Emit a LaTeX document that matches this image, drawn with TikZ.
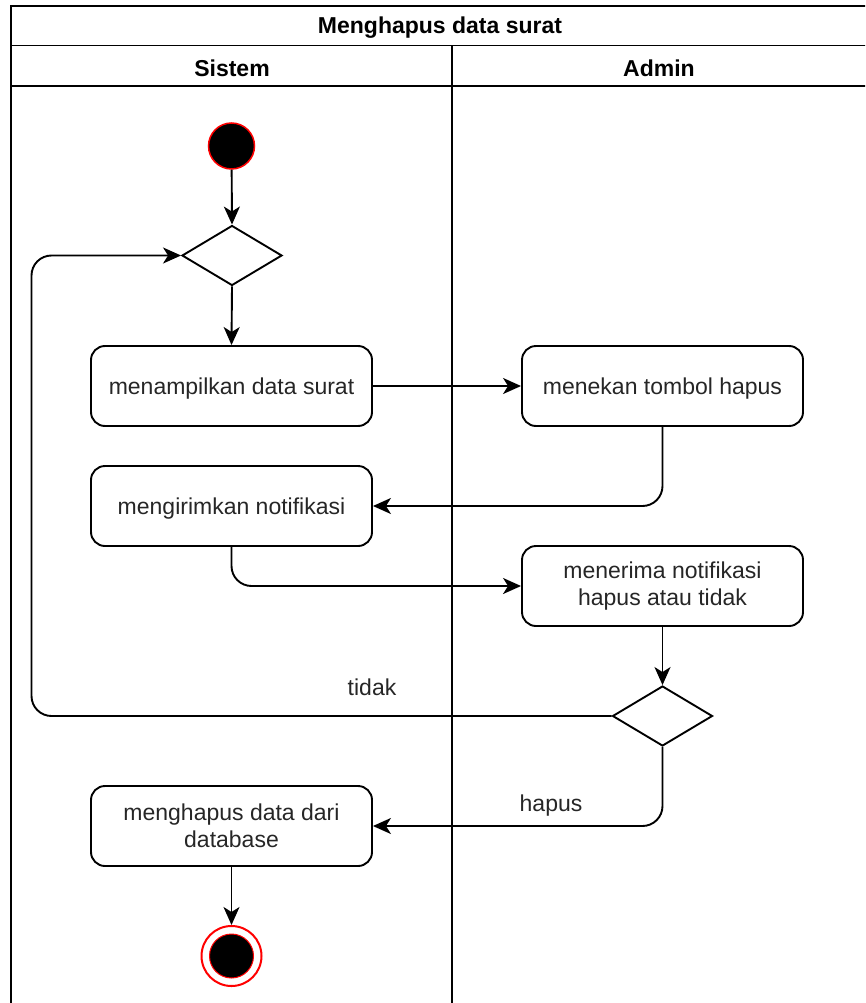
\documentclass[tikz,border=0pt]{standalone}
\usepackage{fontspec}
\setmainfont{Liberation Sans}
\usetikzlibrary{shapes.geometric,arrows.meta}
\begin{document}
\begin{tikzpicture}[x=1pt,y=-1pt,
  txt/.style={font=\fontsize{23}{27}\selectfont, text=black!85},
  hdr/.style={font=\fontsize{23}{27}\selectfont\bfseries, text=black},
  act/.style={txt, draw, line width=1.9pt, rounded corners=14pt,
    minimum width=281pt, minimum height=80pt, align=center, inner sep=0pt},
  oneline/.style={text height=20pt, text depth=3pt},
  dec/.style={draw, diamond, line width=1.9pt, minimum width=100pt,
    minimum height=60pt, inner sep=0pt},
  flow/.style={draw, line width=1.9pt, rounded corners=20pt,
    -{Stealth[length=18pt,width=16pt,inset=5pt]}},
  lane/.style={line width=1.9pt}]

\useasboundingbox (0,0) rectangle (865,1003);
\clip (0,0) rectangle (865,1003);

% swimlane frame
\draw[lane] (11,1010) -- (11,6) -- (870,6);
\draw[lane] (11,45.5) -- (870,45.5);
\draw[lane] (11,86) -- (870,86);
\draw[lane] (452,45.5) -- (452,1010);

\node[hdr] (title) at (440,28) {Menghapus data surat};
\node[hdr] (sistem) at (232,68) {Sistem};
\node[hdr] (admin) at (659,68) {Admin};

% start and end
\node[circle, fill=black, draw=red, line width=1.5pt, minimum size=46pt, inner sep=0pt] (start) at (231.5,146) {};
\node[circle, draw=red, fill=white, line width=2pt, minimum size=60pt, inner sep=0pt] (fin) at (231.5,956) {};
\node[circle, fill=black, draw=red, line width=1pt, minimum size=44pt, inner sep=0pt] (finDot) at (fin.center) {};

% decisions
\node[dec] (d1) at (232,255.5) {};
\node[dec] (d2) at (662.5,716) {};

% activities
\node[act, oneline] (a1) at (231.5,386) {menampilkan data surat};
\node[act, oneline] (a2) at (662.5,386) {menekan tombol hapus};
\node[act, oneline] (a3) at (231.5,506) {mengirimkan notifikasi};
\node[act] (a4) at (662.5,586) {menerima notifikasi\\hapus atau tidak};
\node[act] (a5) at (231.5,826) {menghapus data dari\\database};

% loop-back corners
\coordinate (lb) at (31.5,716);
\coordinate (lt) at (31.5,255.5);

% flows
\draw[flow] (start) -- (d1.north);
\draw[flow] (d1.south) -- (a1.north);
\draw[flow] (a1.east) -- (a2.west);
\draw[flow] (a2.south) |- (a3.east);
\draw[flow] (a3.south) |- (a4.west);
\draw[flow] (a4.south) -- (d2.north);
\draw[flow] (d2.west) -- (lb) -- (lt) -- (d1.west);
\draw[flow] (d2.south) |- (a5.east);
\draw[flow] (a5.south) -- (fin.north);

% guard labels
\node[txt] (tidak) at (372,687) {tidak};
\node[txt] (hapus) at (551,806) {hapus};
\end{tikzpicture}
\end{document}
